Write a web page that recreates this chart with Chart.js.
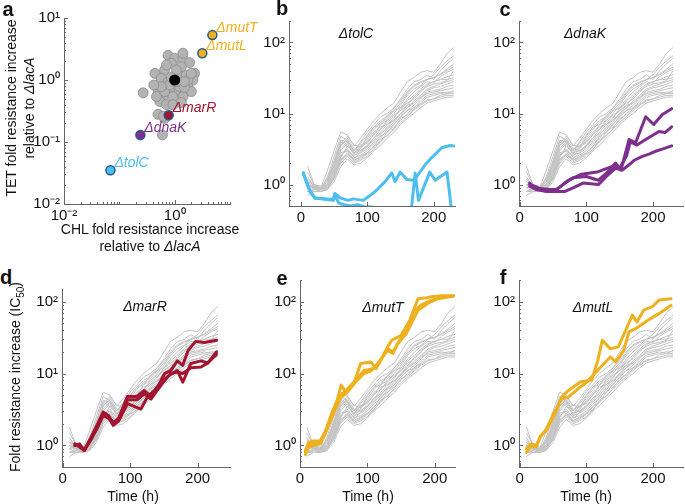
<!DOCTYPE html>
<html>
<head>
<meta charset="utf-8">
<script src="https://cdn.jsdelivr.net/npm/chart.js@4.4.1/dist/chart.umd.min.js"></script>
<style>
  body { margin: 0; background: #fff; width: 685px; height: 504px; position: relative; overflow: hidden;
         font-family: "Liberation Sans", Arial, Helvetica, sans-serif; color: #111; }
  canvas { position: absolute; }
  .t { position: absolute; white-space: nowrap; font-size: 14px; line-height: 1; transform: translate(-50%, -50%); }
  .v { transform: translate(-50%, -50%) rotate(-90deg); }
  .L { font-weight: bold; font-size: 20px; }
  .g { font-style: italic; }
</style>
</head>
<body>
<div class="t L" style="left:8px;top:9px">a</div>
<div class="t L" style="left:282px;top:8px">b</div>
<div class="t L" style="left:505px;top:9px">c</div>
<div class="t L" style="left:6px;top:277px">d</div>
<div class="t L" style="left:282px;top:278px">e</div>
<div class="t L" style="left:503px;top:277px">f</div>

<div class="t v" style="left:11px;top:108px">TET fold resistance increase</div>
<div class="t v" style="left:29px;top:108px">relative to <i>ΔlacA</i></div>
<div class="t" style="left:150px;top:229px">CHL fold resistance increase</div>
<div class="t" style="left:150px;top:246px">relative to <i>ΔlacA</i></div>
<div class="t v" style="left:17px;top:377px">Fold resistance increase (IC<sub style="font-size:10px">50</sub>)</div>
<div class="t" style="left:133px;top:496px">Time (h)</div>
<div class="t" style="left:368px;top:496px">Time (h)</div>
<div class="t" style="left:586px;top:496px">Time (h)</div>

<div class="t g" style="left:356px;top:33px">ΔtolC</div>
<div class="t g" style="left:585px;top:33px">ΔdnaK</div>
<div class="t g" style="left:145px;top:306px">ΔmarR</div>
<div class="t g" style="left:383px;top:307px">ΔmutT</div>
<div class="t g" style="left:593px;top:307px">ΔmutL</div>

<script>
// ---- panel a: fold change vs lacA (CHL on x, TET on y)
var greyCHL = [0.44, 0.27, 0.54, 0.66, 0.76, 1.0, 1.41, 1.86, 2.29, 2.14, 1.74, 2.0, 1.41, 1.07, 0.81, 0.62,
               0.54, 0.5, 0.57, 0.76, 1.23, 1.62, 1.23, 0.93, 0.71, 0.93, 0.5, 0.66, 0.87, 0.71, 1.32, 1.07,
               1.74, 0.66, 0.81, 1.5, 0.47, 1.32, 0.57, 1.07, 1.5, 0.42, 2.0, 1.41, 0.87, 0.6, 0.62];
var greyTET = [1.28, 0.62, 0.885, 1.45, 2.5, 2.25, 2.25, 1.9, 1.28, 1.0, 0.78, 0.65, 0.54, 0.69, 0.65, 0.54,
               0.45, 0.69, 1.06, 0.94, 1.2, 1.2, 0.78, 0.54, 0.4, 0.4, 0.28, 0.24, 1.86, 1.75, 1.64, 1.45,
               1.0, 0.65, 0.83, 0.76, 0.54, 0.43, 0.78, 0.94, 0.94, 0.83, 1.28, 2.7, 1.1, 0.13, 0.26];
var strains = ['ΔtolC', 'ΔdnaK', 'ΔmarR', 'ΔmutL', 'ΔmutT'];
var strainCHL = [0.069, 0.24, 0.78, 3.16, 4.8];
var strainTET = [0.035, 0.13, 0.27, 2.7, 5.3];
var lacA = [1, 1];

// ---- panels b-f: evolution time courses
var hours = [10, 20, 30, 40, 50, 60, 70, 80, 90, 100, 110, 120, 130, 140, 150, 160, 170, 180, 190, 200, 210, 220, 230];
var greyLines = [
  [1.0, 0.9, 0.9, 1.6, 3.0, 5.5, 5.0, 3.5, 4.5, 6.0, 8.0, 10, 12, 14, 20, 28, 32, 38, 40, 38, 50, 70, 85],
  [1.2, 0.95, 0.85, 1.3, 2.5, 4.8, 4.2, 3.0, 3.8, 5.0, 6.5, 8.0, 9.0, 12, 16, 22, 28, 30, 35, 30, 40, 50, 60],
  [0.9, 1.0, 0.9, 1.2, 2.0, 4.0, 3.5, 2.8, 3.5, 4.0, 5.0, 7.0, 8.0, 10, 13, 18, 22, 25, 30, 32, 35, 40, 45],
  [1.8, 1.0, 0.95, 1.1, 1.8, 3.5, 4.5, 3.2, 3.0, 3.6, 4.5, 6.0, 7.5, 9.0, 11, 15, 18, 22, 26, 28, 30, 33, 35],
  [0.8, 0.85, 0.9, 1.0, 1.6, 3.0, 3.8, 2.6, 2.8, 3.2, 4.0, 5.0, 6.5, 8.0, 10, 12, 15, 18, 22, 24, 26, 28, 30],
  [1.0, 0.9, 0.8, 0.9, 1.4, 2.5, 3.2, 2.4, 2.6, 3.0, 3.8, 4.5, 6.0, 7.0, 9.0, 11, 13, 16, 20, 21, 22, 24, 25],
  [0.7, 0.8, 0.85, 0.95, 1.3, 2.2, 2.8, 2.2, 2.5, 2.8, 3.5, 4.0, 5.5, 6.5, 8.0, 10, 12, 14, 17, 18, 19, 20, 20],
  [1.1, 0.9, 0.85, 0.9, 1.2, 2.0, 2.5, 2.0, 2.2, 2.5, 3.2, 4.0, 5.0, 6.0, 7.5, 9.0, 11, 13, 15, 16, 17, 18, 18],
  [0.9, 0.8, 0.8, 0.85, 1.1, 1.8, 2.3, 1.9, 2.0, 2.4, 3.0, 3.6, 4.5, 5.5, 7.0, 8.5, 10, 12, 14, 15, 16, 17, 17],
  [1.0, 0.95, 0.9, 1.0, 1.5, 2.8, 3.0, 2.5, 3.2, 4.2, 5.5, 6.5, 7.0, 8.5, 12, 14, 16, 20, 25, 28, 30, 30, 32],
  [1.3, 0.9, 0.85, 1.1, 2.2, 4.2, 4.0, 3.0, 4.0, 5.5, 7.0, 9.0, 10, 12, 15, 20, 25, 28, 30, 35, 45, 55, 65],
  [0.8, 0.8, 0.8, 0.9, 1.2, 2.4, 3.5, 2.8, 3.0, 3.5, 4.2, 5.5, 7.0, 8.0, 9.5, 12, 14, 17, 19, 20, 21, 22, 23],
  [1.0, 0.85, 0.9, 1.0, 1.4, 2.6, 3.0, 2.2, 2.4, 2.8, 3.4, 4.8, 5.5, 7.0, 9.0, 11, 12, 15, 18, 19, 20, 19, 19],
  [1.1, 1.0, 0.9, 1.2, 2.0, 3.8, 4.8, 3.6, 3.4, 4.5, 6.0, 7.5, 8.5, 11, 14, 19, 24, 27, 30, 32, 36, 42, 50],
  [1.5, 1.0, 0.85, 1.0, 1.7, 3.2, 4.0, 3.0, 3.6, 3.8, 5.2, 6.0, 8.0, 9.5, 11, 13, 17, 21, 24, 26, 27, 29, 40],
  [0.9, 0.95, 0.8, 0.85, 1.3, 2.3, 2.6, 2.3, 2.9, 3.4, 4.6, 5.2, 6.2, 7.5, 10, 13, 14, 17, 21, 23, 24, 26, 28],
  [1.0, 0.9, 0.9, 1.1, 1.9, 3.6, 4.2, 2.7, 3.3, 4.8, 6.5, 7.0, 9.5, 11, 12, 16, 20, 24, 28, 27, 33, 38, 42],
  [0.8, 0.9, 0.85, 0.95, 1.25, 2.1, 2.7, 2.1, 2.3, 2.7, 3.1, 4.3, 4.8, 6.2, 8.5, 9.5, 11.5, 13.5, 15.5, 16, 18, 19, 21]
];

// [hour, fold increase]
var tolC1 = [[3.5, 1.46], [13.6, 0.8], [21, 0.65], [48.8, 0.615], [51, 0.75], [59, 0.65], [71, 0.6], [79, 0.63],
             [94, 0.6], [112, 0.8], [126.7, 1.1], [136.8, 1.46], [141.8, 1.1], [149.3, 1.5], [159.4, 1.18],
             [169.4, 1.15], [174.5, 1.3], [187, 1.9], [197, 2.4], [212, 3.3], [224.7, 3.55], [230, 3.5]];
var tolC2 = [[3.5, 1.46], [13.6, 0.8], [21, 0.65], [48.8, 0.6], [51, 0.72], [57, 0.55], [65, 0.52], [75, 0.5],
             [85, 0.52], [95, 0.49], [110, 0.48], [125, 0.3], [150, 0.3], [165, 0.35], [172, 1.45], [177, 0.6],
             [194, 1.5], [202, 1.15], [220, 1.5], [228, 0.35]];
var dnaK1 = [[15, 1.0], [22, 0.95], [30, 0.88], [45, 0.85], [55, 0.85], [62, 0.95], [73, 1.15], [93, 1.4], [116, 1.5],
             [139, 1.8], [144, 2.0], [152, 1.6], [164, 4.3], [174, 3.9], [189, 9.0], [201, 7.0], [214, 9.7], [228, 11.7]];
var dnaK2 = [[15, 1.05], [22, 0.9], [30, 0.85], [45, 0.82], [55, 0.85], [65, 1.0], [80, 1.25], [100, 1.3], [118, 1.15],
             [135, 1.6], [144, 1.9], [150, 1.7], [160, 2.5], [166, 4.0], [176, 3.6], [189, 4.3], [199, 4.9], [209, 5.6],
             [218, 5.4], [228, 6.5]];
var dnaK3 = [[15, 0.95], [25, 0.85], [40, 0.8], [55, 0.8], [68, 0.8], [80, 0.9], [95, 1.05], [118, 1.0], [130, 1.3],
             [144, 1.7], [154, 1.6], [164, 1.9], [172, 2.2], [184, 2.5], [195, 2.7], [204, 2.95], [216, 3.2], [228, 3.5]];
var marR1 = [[18, 1.0], [25, 1.05], [32, 0.85], [42, 1.3], [52, 2.0], [60, 2.9], [68, 2.6], [75, 2.0], [83, 2.4], [96, 4.8],
             [110, 4.8], [121, 5.8], [131, 4.8], [141, 6.5], [151, 10], [160, 11], [170, 15], [178, 13], [186, 21],
             [197, 28], [210, 27], [228, 29]];
var marR2 = [[18, 1.0], [25, 1.0], [32, 0.85], [42, 1.2], [52, 1.8], [60, 2.6], [68, 2.4], [75, 1.9], [83, 2.2], [96, 3.8],
             [116, 3.2], [126, 4.8], [136, 5.8], [146, 7.6], [158, 9.5], [170, 11], [178, 7.6], [190, 13.8], [205, 15],
             [215, 14], [228, 20]];
var marR3 = [[18, 1.05], [25, 0.95], [32, 0.85], [42, 1.25], [52, 1.9], [60, 2.7], [68, 2.5], [75, 2.1], [83, 2.3],
             [96, 4.3], [110, 4.3], [121, 5.2], [131, 4.4], [141, 6], [151, 8], [160, 10], [170, 10.5], [178, 10],
             [190, 12], [205, 12.3], [215, 14], [228, 18.5]];
var mutT1 = [[8, 0.85], [13, 1.1], [20, 1.15], [30, 1.15], [38, 1.6], [47, 2.8], [55, 4.2], [61, 6.9], [68, 5.5], [80, 7.3],
             [90, 13.8], [105, 14.5], [113, 11.7], [130, 23.5], [136, 29], [150, 34], [163, 55], [175, 110], [185, 112],
             [195, 117], [210, 121], [228, 121]];
var mutT2 = [[8, 0.75], [13, 0.95], [20, 1.0], [30, 1.05], [38, 1.5], [47, 2.4], [55, 3.6], [61, 4.7], [68, 5.2], [85, 8.1],
             [95, 10], [105, 10.8], [113, 13], [130, 21], [138, 19], [145, 26], [158, 36], [168, 72], [180, 90],
             [195, 105], [210, 115], [228, 121]];
var mutT3 = [[8, 0.8], [13, 1.0], [20, 1.1], [30, 1.1], [38, 1.5], [47, 2.6], [55, 3.9], [61, 5.0], [68, 5.8], [85, 8.5],
             [95, 11], [105, 11.5], [113, 12], [130, 22], [138, 20], [148, 29], [160, 40], [175, 76], [190, 95],
             [205, 110], [228, 120]];
var mutL1 = [[10, 0.8], [18, 1.0], [25, 0.95], [31, 1.35], [40, 1.6], [53, 2.8], [63, 4.7], [73, 5.8], [91, 7.6], [108, 8.1],
             [117, 15], [124, 29], [136, 22], [148, 23.5], [159, 40], [169, 65], [176, 52], [186, 76], [199, 85],
             [209, 105], [227, 110]];
var mutL2 = [[10, 0.9], [18, 1.05], [25, 1.0], [31, 1.3], [40, 1.7], [53, 3.0], [63, 4.5], [73, 4.7], [91, 6.5], [100, 7.5],
             [108, 9], [124, 13], [136, 17], [144, 14.5], [156, 21], [164, 38], [174, 42], [186, 50], [196, 58],
             [209, 68], [227, 89]];

// ticks
var logTicksA = [0.01, 0.02, 0.03, 0.04, 0.05, 0.06, 0.07, 0.08, 0.09, 0.1, 0.2, 0.3, 0.4, 0.5, 0.6, 0.7, 0.8, 0.9,
                 1, 2, 3, 4, 5, 6, 7, 8, 9, 10];
var foldTicks = [0.5, 0.6, 0.7, 0.8, 0.9, 1, 2, 3, 4, 5, 6, 7, 8, 9, 10, 20, 30, 40, 50, 60, 70, 80, 90, 100, 200];
var hourTicks = [0, 100, 200];
var decadeText = { '0.01': '10⁻²', '0.1': '10⁻¹', '1': '10⁰', '10': '10¹', '100': '10²' };
var chlText = { '0.01': '10⁻²', '1': '10⁰' };
var hourText = { '0': '0', '100': '100', '200': '200' };

var BLUE = '#4DBEEE', PURPLE = '#7E2F8E', RED = '#A2142F', ORANGE = '#EDB120';
var GREY = '#C2C2C2', AXIS = '#666666', EDGE = '#27598A';
var FONT = { family: '"Liberation Sans", Arial, Helvetica, sans-serif', size: 15 };

var inwardTicks = {
  id: 'inwardTicks',
  afterDraw: function (chart) {
    var ctx = chart.ctx, a = chart.chartArea, sx = chart.scales.x, sy = chart.scales.y;
    ctx.save();
    ctx.strokeStyle = AXIS;
    ctx.lineWidth = 1;
    sx.ticks.forEach(function (t) {
      var p = Math.round(sx.getPixelForValue(t.value)) + 0.5;
      ctx.beginPath(); ctx.moveTo(p, a.bottom); ctx.lineTo(p, a.bottom - (t.label ? 4 : 2)); ctx.stroke();
    });
    sy.ticks.forEach(function (t) {
      var p = Math.round(sy.getPixelForValue(t.value)) + 0.5;
      ctx.beginPath(); ctx.moveTo(a.left, p); ctx.lineTo(a.left + (t.label ? 4 : 2), p); ctx.stroke();
    });
    ctx.restore();
  }
};

var pointTags = {
  id: 'pointTags',
  afterDatasetsDraw: function (chart) {
    var ctx = chart.ctx;
    ctx.save();
    ctx.font = 'italic 14px "Liberation Sans", Arial, sans-serif';
    ctx.textBaseline = 'middle';
    chart.data.datasets.forEach(function (ds, i) {
      if (!ds.tag) return;
      var el = chart.getDatasetMeta(i).data[0];
      ctx.fillStyle = ds.tagColor;
      ctx.fillText(ds.tag, el.x + 4, el.y - 7);
    });
    ctx.restore();
  }
};

function axis(ax, size, horiz) {
  return {
    type: ax.log ? 'logarithmic' : 'linear',
    min: ax.min, max: ax.max,
    afterFit: function (s) { if (horiz) s.height = size; else s.width = size; },
    afterBuildTicks: function (s) {
      s.ticks = ax.ticks.filter(function (v) { return v >= ax.min && v <= ax.max; })
                        .map(function (v) { return { value: v }; });
    },
    ticks: {
      autoSkip: false, maxRotation: 0, padding: horiz ? 3 : 4, color: '#111', font: FONT,
      callback: function (v) { return ax.text[String(v)] || ''; }
    },
    grid: { display: true, drawOnChartArea: false, drawTicks: false },
    border: { color: AXIS, width: 1 }
  };
}

function makeChart(area, xa, ya, datasets, padR) {
  var yW = 42, xH = 24, padT = 14;
  padR = padR || 10;
  var w = area[2] - area[0] + yW + padR, h = area[3] - area[1] + padT + xH;
  var c = document.createElement('canvas');
  c.width = w; c.height = h;
  c.style.left = (area[0] - yW) + 'px'; c.style.top = (area[1] - padT) + 'px';
  c.style.width = w + 'px'; c.style.height = h + 'px';
  document.body.insertBefore(c, document.body.firstChild);
  return new Chart(c, {
    type: 'line',
    data: { datasets: datasets },
    options: {
      responsive: false, animation: false, devicePixelRatio: 1,
      layout: { padding: { top: padT, right: padR, left: 0, bottom: 0 } },
      plugins: { legend: { display: false }, tooltip: { enabled: false } },
      elements: { point: { radius: 0 }, line: { tension: 0 } },
      scales: { x: axis(xa, xH, true), y: axis(ya, yW, false) }
    },
    plugins: [inwardTicks, pointTags]
  });
}

function xy(pairs) { return pairs.map(function (p) { return { x: p[0], y: p[1] }; }); }

function courses(colored, color) {
  var sets = colored.map(function (s) {
    return { data: xy(s), borderColor: color, borderWidth: 3, borderJoinStyle: 'round', borderCapStyle: 'round' };
  });
  greyLines.forEach(function (g) {
    sets.push({ data: g.map(function (v, i) { return { x: hours[i], y: v }; }), borderColor: GREY, borderWidth: 1 });
  });
  return sets;
}

// panel a
var tagColors = [BLUE, PURPLE, RED, ORANGE, ORANGE];
var scatterSets = strains.map(function (name, i) {
  return {
    data: [{ x: strainCHL[i], y: strainTET[i] }], showLine: false, tag: name, tagColor: tagColors[i],
    pointRadius: 4.5, pointBackgroundColor: tagColors[i], pointBorderColor: EDGE, pointBorderWidth: 1.5
  };
});
scatterSets.push({ data: [{ x: lacA[0], y: lacA[1] }], showLine: false, pointRadius: 5.5,
                   pointBackgroundColor: '#000', pointBorderColor: '#000', pointBorderWidth: 0 });
scatterSets.push({ data: greyCHL.map(function (v, i) { return { x: v, y: greyTET[i] }; }), showLine: false,
                   pointRadius: 5, pointBackgroundColor: '#B3B3B3', pointBorderColor: '#8A8A8A', pointBorderWidth: 0.8 });

var logA = { log: true, min: 0.01, max: 10, ticks: logTicksA, text: decadeText };
makeChart([64, 18, 230, 204], { log: true, min: 0.01, max: 10, ticks: logTicksA, text: chlText }, logA, scatterSets, 60);

// panels b-f
var foldTop = { log: true, min: 0.5, max: 200, ticks: foldTicks, text: decadeText };
var foldD = { log: true, min: 0.5, max: 150, ticks: foldTicks, text: decadeText };
makeChart([289, 21, 455, 206], { min: -18, max: 232, ticks: hourTicks, text: hourText }, foldTop, courses([tolC1, tolC2], BLUE));
makeChart([519, 21, 683, 206], { min: -1, max: 245, ticks: hourTicks, text: hourText }, foldTop, courses([dnaK1, dnaK2, dnaK3], PURPLE));
makeChart([62, 289, 230, 467], { min: -1, max: 248, ticks: hourTicks, text: hourText }, foldD, courses([marR1, marR2, marR3], RED));
makeChart([300, 280, 455, 467], { min: 0, max: 230, ticks: hourTicks, text: hourText }, foldTop, courses([mutT1, mutT2, mutT3], ORANGE));
makeChart([519, 280, 683, 467], { min: -1, max: 245, ticks: hourTicks, text: hourText }, foldTop, courses([mutL1, mutL2], ORANGE));
</script>
</body>
</html>
